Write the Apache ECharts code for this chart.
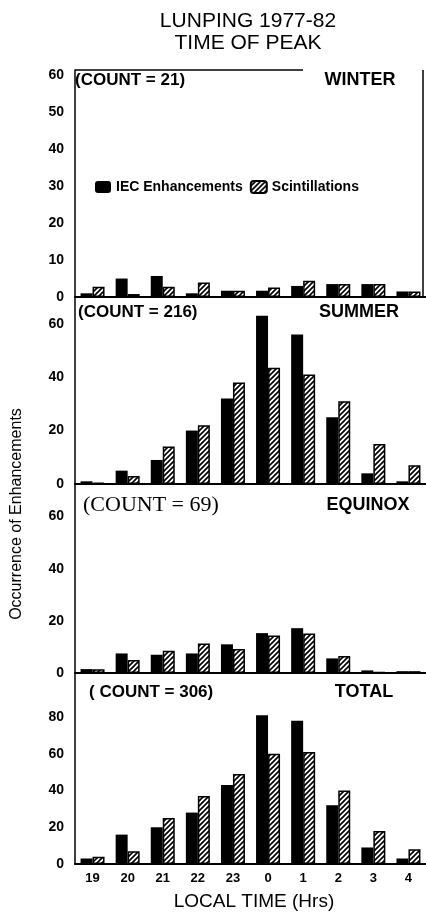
<!DOCTYPE html>
<html>
<head>
<meta charset="utf-8">
<script src="https://cdn.jsdelivr.net/npm/echarts@6/dist/echarts.min.js"></script>
<style>
html,body{margin:0;padding:0;background:#fff;}
#chart{width:426px;height:916px;}
</style>
</head>
<body>
<div id="chart"></div>
<script>
// ---- Data ----
const hours = ['19','20','21','22','23','0','1','2','3','4'];
const winterIEC    = [1, 5, 5.7, 1, 1.7, 1.7, 3, 3.5, 3.5, 1.5];
const winterScint  = [2.8, 0.8, 2.8, 3.9, 1.7, 2.6, 4.4, 3.5, 3.5, 1.5];
const summerIEC    = [1, 5, 9, 20, 32, 63, 56, 25, 4, 1];
const summerScint  = [0.5, 3, 14, 22, 38, 43.5, 41, 31, 15, 7];
const equinoxIEC   = [1.5, 7.5, 7, 7.5, 11, 15.3, 17.2, 5.6, 1, 0.7];
const equinoxScint = [1.4, 5, 8.5, 11.3, 9.2, 14.4, 15.2, 6.5, 0.3, 0.7];
const totalIEC     = [3, 16, 20, 28, 43, 81, 78, 32, 9, 3];
const totalScint   = [4, 7, 25, 37, 49, 60, 61, 40, 18, 8];

const panelNames  = ['WINTER', 'SUMMER', 'EQUINOX', 'TOTAL'];
const panelCounts = ['(COUNT = 21)', '(COUNT = 216)', '(COUNT = 69)', '( COUNT = 306)'];
const yMax        = [61.5, 70, 72.5, 104];
const yStep       = [10, 20, 20, 20];
const yLabelMax   = [60, 60, 60, 80];

// ---- Layout ----
const grids = [
  {top: 70,  height: 227},
  {top: 297, height: 187},
  {top: 484, height: 189},
  {top: 673, height: 191}
];

function makeHatch() {
  const c = document.createElement('canvas');
  c.width = 5; c.height = 5;
  const g = c.getContext('2d');
  g.fillStyle = '#fff'; g.fillRect(0, 0, 5, 5);
  g.strokeStyle = '#000'; g.lineWidth = 1.7;
  g.beginPath();
  g.moveTo(0, 5); g.lineTo(5, 0);
  g.moveTo(-1, 1); g.lineTo(1, -1);
  g.moveTo(4, 6); g.lineTo(6, 4);
  g.stroke();
  return c;
}
const hatch = {image: makeHatch(), repeat: 'repeat'};

const iecData = [winterIEC, summerIEC, equinoxIEC, totalIEC];
const scintData = [winterScint, summerScint, equinoxScint, totalScint];

const FONT = 'Liberation Sans, Arial, sans-serif';

const option = {
  animation: false,
  backgroundColor: '#fff',
  grid: grids.map(g => ({left: 75, right: 0, top: g.top, height: g.height})),
  xAxis: grids.map((g, i) => ({
    type: 'category', gridIndex: i, data: hours,
    axisLine: {show: true, lineStyle: {color: '#000', width: 2}},
    axisTick: {show: false},
    axisLabel: {show: i === 3, color: '#000', fontFamily: FONT, fontWeight: 'bold', fontSize: 13, margin: 8}
  })),
  yAxis: grids.map((g, i) => ({
    type: 'value', gridIndex: i, min: 0, max: yMax[i], interval: yStep[i],
    splitLine: {show: false},
    axisTick: {show: false},
    axisLine: {show: true, lineStyle: {color: '#000', width: 1.5}},
    axisLabel: {
      color: '#000', fontFamily: FONT, fontWeight: 'bold', fontSize: 14, margin: 11,
      formatter: v => (v % yStep[i] === 0 && v <= yLabelMax[i] ? String(v) : '')
    }
  })),
  legend: {
    left: 90, top: 175, itemWidth: 16, itemHeight: 12, itemGap: 7,
    selectedMode: false,
    data: ['IEC Enhancements', 'Scintillations'],
    textStyle: {color: '#000', fontFamily: FONT, fontWeight: 'bold', fontSize: 14}
  },
  series: [],
  graphic: []
};

for (let i = 0; i < 4; i++) {
  option.series.push({
    name: 'IEC Enhancements', type: 'bar', xAxisIndex: i, yAxisIndex: i,
    data: iecData[i], barWidth: 12, barGap: '0%',
    itemStyle: {color: '#000'}
  });
  option.series.push({
    name: 'Scintillations', type: 'bar', xAxisIndex: i, yAxisIndex: i,
    data: scintData[i], barWidth: 12, barGap: '0%',
    itemStyle: {color: hatch, borderColor: '#000', borderWidth: 1.5}
  });
}

const countY = [80, 312, 505, 692];
const countX = [75, 78, 83, 89];
const nameX  = [360, 359, 368, 364];
for (let i = 0; i < 4; i++) {
  option.graphic.push({
    type: 'text', x: countX[i], y: countY[i],
    style: {
      text: panelCounts[i], fill: '#000',
      font: i === 2 ? '22px "Liberation Serif", "Times New Roman", serif' : 'bold 17px ' + FONT,
      textAlign: 'left', textVerticalAlign: 'middle'
    }
  });
  option.graphic.push({
    type: 'text', x: nameX[i], y: countY[i],
    style: {
      text: panelNames[i], fill: '#000', font: 'bold 18px ' + FONT,
      textAlign: 'center', textVerticalAlign: 'middle'
    }
  });
}

option.graphic.push(
  {type: 'text', x: 248, y: 21, style: {text: 'LUNPING 1977-82', fill: '#000', font: '21px ' + FONT, textAlign: 'center', textVerticalAlign: 'middle'}},
  {type: 'text', x: 248, y: 43, style: {text: 'TIME OF PEAK', fill: '#000', font: '21px ' + FONT, textAlign: 'center', textVerticalAlign: 'middle'}},
  {type: 'text', x: 254, y: 902, style: {text: 'LOCAL TIME (Hrs)', fill: '#000', font: '19px ' + FONT, textAlign: 'center', textVerticalAlign: 'middle'}},
  {type: 'text', x: 17, y: 514, rotation: Math.PI / 2, style: {text: 'Occurrence of Enhancements', fill: '#000', font: '16px ' + FONT, textAlign: 'center', textVerticalAlign: 'middle'}},
  {type: 'line', shape: {x1: 75, y1: 70, x2: 303, y2: 70}, style: {stroke: '#000', lineWidth: 1.5}},
  {type: 'line', shape: {x1: 423, y1: 70, x2: 423, y2: 297}, style: {stroke: '#000', lineWidth: 1.5}}
);

const chart = echarts.init(document.getElementById('chart'), null, {renderer: 'canvas'});
chart.setOption(option);
</script>
</body>
</html>
